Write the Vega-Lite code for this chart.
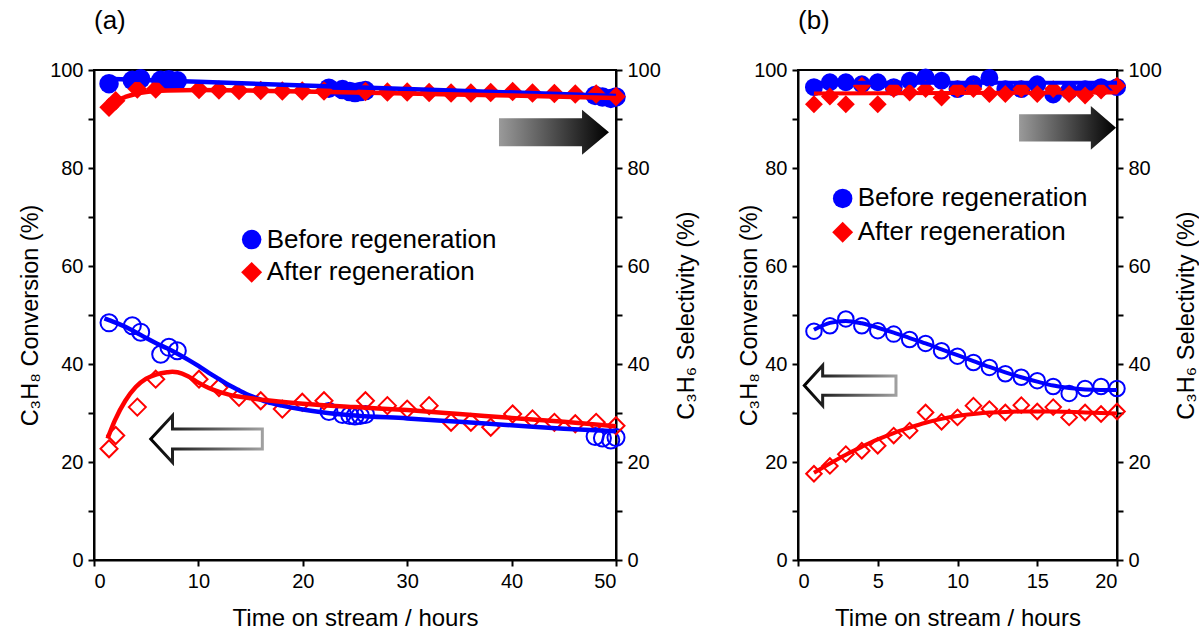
{
  "$schema": "https://vega.github.io/schema/vega-lite/v6.json",
  "background": "white",
  "padding": {"left": 17, "top": 7, "right": 0, "bottom": 0},
  "spacing": 37,
  "config": {
    "font": "Liberation Sans",
    "view": {"stroke": "black", "strokeWidth": 2},
    "axis": {"domainColor": "black", "domainWidth": 2, "tickColor": "black", "tickWidth": 2, "tickSize": 6, "labelFontSize": 20, "labelColor": "black", "labelFont": "Liberation Sans", "titleFont": "Liberation Sans", "titleFontSize": 23.5, "titleFontWeight": "normal", "titleColor": "black", "grid": false, "labelPadding": 5, "labelOverlap": false},
    "axisX": {"titlePadding": 15, "titleFontSize": 24},
    "point": {"opacity": 1},
    "title": {"font": "Liberation Sans", "fontSize": 26, "fontWeight": "normal", "color": "black", "anchor": "start", "frame": "group", "baseline": "alphabetic", "offset": 26}
  },
  "datasets": {
    "pts": [
      {"panel": "a", "series": "Before regeneration", "kind": "conv", "t": 1.44, "v": 48.4},
      {"panel": "a", "series": "Before regeneration", "kind": "conv", "t": 3.67, "v": 47.8},
      {"panel": "a", "series": "Before regeneration", "kind": "conv", "t": 4.47, "v": 46.5},
      {"panel": "a", "series": "Before regeneration", "kind": "conv", "t": 6.39, "v": 42.0},
      {"panel": "a", "series": "Before regeneration", "kind": "conv", "t": 7.18, "v": 43.4},
      {"panel": "a", "series": "Before regeneration", "kind": "conv", "t": 7.98, "v": 42.7},
      {"panel": "a", "series": "Before regeneration", "kind": "conv", "t": 22.5, "v": 30.3},
      {"panel": "a", "series": "Before regeneration", "kind": "conv", "t": 23.8, "v": 29.7},
      {"panel": "a", "series": "Before regeneration", "kind": "conv", "t": 24.5, "v": 29.5},
      {"panel": "a", "series": "Before regeneration", "kind": "conv", "t": 25.0, "v": 29.4},
      {"panel": "a", "series": "Before regeneration", "kind": "conv", "t": 25.5, "v": 29.5},
      {"panel": "a", "series": "Before regeneration", "kind": "conv", "t": 26.0, "v": 29.7},
      {"panel": "a", "series": "Before regeneration", "kind": "conv", "t": 48.0, "v": 25.2},
      {"panel": "a", "series": "Before regeneration", "kind": "conv", "t": 48.7, "v": 24.9},
      {"panel": "a", "series": "Before regeneration", "kind": "conv", "t": 49.5, "v": 24.5},
      {"panel": "a", "series": "Before regeneration", "kind": "conv", "t": 50.0, "v": 25.0},
      {"panel": "a", "series": "After regeneration", "kind": "conv", "t": 1.44, "v": 22.7},
      {"panel": "a", "series": "After regeneration", "kind": "conv", "t": 2.08, "v": 25.4},
      {"panel": "a", "series": "After regeneration", "kind": "conv", "t": 4.15, "v": 31.2},
      {"panel": "a", "series": "After regeneration", "kind": "conv", "t": 5.91, "v": 36.9},
      {"panel": "a", "series": "After regeneration", "kind": "conv", "t": 10.06, "v": 36.9},
      {"panel": "a", "series": "After regeneration", "kind": "conv", "t": 11.97, "v": 35.2},
      {"panel": "a", "series": "After regeneration", "kind": "conv", "t": 13.89, "v": 33.2},
      {"panel": "a", "series": "After regeneration", "kind": "conv", "t": 15.97, "v": 32.5},
      {"panel": "a", "series": "After regeneration", "kind": "conv", "t": 18.04, "v": 30.8},
      {"panel": "a", "series": "After regeneration", "kind": "conv", "t": 19.95, "v": 32.2},
      {"panel": "a", "series": "After regeneration", "kind": "conv", "t": 22.03, "v": 32.5},
      {"panel": "a", "series": "After regeneration", "kind": "conv", "t": 26.0, "v": 32.5},
      {"panel": "a", "series": "After regeneration", "kind": "conv", "t": 28.1, "v": 31.5},
      {"panel": "a", "series": "After regeneration", "kind": "conv", "t": 30.0, "v": 30.8},
      {"panel": "a", "series": "After regeneration", "kind": "conv", "t": 32.1, "v": 31.5},
      {"panel": "a", "series": "After regeneration", "kind": "conv", "t": 34.2, "v": 28.1},
      {"panel": "a", "series": "After regeneration", "kind": "conv", "t": 36.1, "v": 28.1},
      {"panel": "a", "series": "After regeneration", "kind": "conv", "t": 38.0, "v": 27.1},
      {"panel": "a", "series": "After regeneration", "kind": "conv", "t": 40.1, "v": 29.8},
      {"panel": "a", "series": "After regeneration", "kind": "conv", "t": 42.0, "v": 28.8},
      {"panel": "a", "series": "After regeneration", "kind": "conv", "t": 44.1, "v": 28.1},
      {"panel": "a", "series": "After regeneration", "kind": "conv", "t": 46.1, "v": 27.8},
      {"panel": "a", "series": "After regeneration", "kind": "conv", "t": 48.1, "v": 28.1},
      {"panel": "a", "series": "After regeneration", "kind": "conv", "t": 50.0, "v": 27.4},
      {"panel": "a", "series": "Before regeneration", "kind": "sel", "t": 1.44, "v": 97.2},
      {"panel": "a", "series": "Before regeneration", "kind": "sel", "t": 3.67, "v": 97.9},
      {"panel": "a", "series": "Before regeneration", "kind": "sel", "t": 4.47, "v": 98.2},
      {"panel": "a", "series": "Before regeneration", "kind": "sel", "t": 6.39, "v": 97.9},
      {"panel": "a", "series": "Before regeneration", "kind": "sel", "t": 7.18, "v": 98.0},
      {"panel": "a", "series": "Before regeneration", "kind": "sel", "t": 7.98, "v": 97.8},
      {"panel": "a", "series": "Before regeneration", "kind": "sel", "t": 22.5, "v": 96.3},
      {"panel": "a", "series": "Before regeneration", "kind": "sel", "t": 23.8, "v": 96.0},
      {"panel": "a", "series": "Before regeneration", "kind": "sel", "t": 24.5, "v": 95.6},
      {"panel": "a", "series": "Before regeneration", "kind": "sel", "t": 25.0, "v": 95.4},
      {"panel": "a", "series": "Before regeneration", "kind": "sel", "t": 25.5, "v": 95.6},
      {"panel": "a", "series": "Before regeneration", "kind": "sel", "t": 26.0, "v": 95.8},
      {"panel": "a", "series": "Before regeneration", "kind": "sel", "t": 48.0, "v": 94.8},
      {"panel": "a", "series": "Before regeneration", "kind": "sel", "t": 48.7, "v": 94.5},
      {"panel": "a", "series": "Before regeneration", "kind": "sel", "t": 49.5, "v": 94.2},
      {"panel": "a", "series": "Before regeneration", "kind": "sel", "t": 50.0, "v": 94.5},
      {"panel": "a", "series": "After regeneration", "kind": "sel", "t": 1.44, "v": 92.4},
      {"panel": "a", "series": "After regeneration", "kind": "sel", "t": 2.08, "v": 93.7},
      {"panel": "a", "series": "After regeneration", "kind": "sel", "t": 4.15, "v": 96.1},
      {"panel": "a", "series": "After regeneration", "kind": "sel", "t": 5.91, "v": 96.1},
      {"panel": "a", "series": "After regeneration", "kind": "sel", "t": 10.06, "v": 96.0},
      {"panel": "a", "series": "After regeneration", "kind": "sel", "t": 11.97, "v": 95.9},
      {"panel": "a", "series": "After regeneration", "kind": "sel", "t": 13.89, "v": 95.8},
      {"panel": "a", "series": "After regeneration", "kind": "sel", "t": 15.97, "v": 95.8},
      {"panel": "a", "series": "After regeneration", "kind": "sel", "t": 18.04, "v": 95.7},
      {"panel": "a", "series": "After regeneration", "kind": "sel", "t": 19.95, "v": 95.7},
      {"panel": "a", "series": "After regeneration", "kind": "sel", "t": 22.03, "v": 95.7},
      {"panel": "a", "series": "After regeneration", "kind": "sel", "t": 26.0, "v": 95.6},
      {"panel": "a", "series": "After regeneration", "kind": "sel", "t": 28.1, "v": 95.5},
      {"panel": "a", "series": "After regeneration", "kind": "sel", "t": 30.0, "v": 95.5},
      {"panel": "a", "series": "After regeneration", "kind": "sel", "t": 32.1, "v": 95.4},
      {"panel": "a", "series": "After regeneration", "kind": "sel", "t": 34.2, "v": 95.3},
      {"panel": "a", "series": "After regeneration", "kind": "sel", "t": 36.1, "v": 95.3},
      {"panel": "a", "series": "After regeneration", "kind": "sel", "t": 38.0, "v": 95.4},
      {"panel": "a", "series": "After regeneration", "kind": "sel", "t": 40.1, "v": 95.6},
      {"panel": "a", "series": "After regeneration", "kind": "sel", "t": 42.0, "v": 95.3},
      {"panel": "a", "series": "After regeneration", "kind": "sel", "t": 44.1, "v": 95.2},
      {"panel": "a", "series": "After regeneration", "kind": "sel", "t": 46.1, "v": 95.1},
      {"panel": "a", "series": "After regeneration", "kind": "sel", "t": 48.1, "v": 95.1},
      {"panel": "a", "series": "After regeneration", "kind": "sel", "t": 50.0, "v": 94.6},
      {"panel": "b", "series": "Before regeneration", "kind": "conv", "t": 1, "v": 46.7},
      {"panel": "b", "series": "Before regeneration", "kind": "conv", "t": 2, "v": 47.8},
      {"panel": "b", "series": "Before regeneration", "kind": "conv", "t": 3, "v": 49.2},
      {"panel": "b", "series": "Before regeneration", "kind": "conv", "t": 4, "v": 47.8},
      {"panel": "b", "series": "Before regeneration", "kind": "conv", "t": 5, "v": 46.8},
      {"panel": "b", "series": "Before regeneration", "kind": "conv", "t": 6, "v": 46.1},
      {"panel": "b", "series": "Before regeneration", "kind": "conv", "t": 7, "v": 45.0},
      {"panel": "b", "series": "Before regeneration", "kind": "conv", "t": 8, "v": 44.2},
      {"panel": "b", "series": "Before regeneration", "kind": "conv", "t": 9, "v": 42.7},
      {"panel": "b", "series": "Before regeneration", "kind": "conv", "t": 10, "v": 41.6},
      {"panel": "b", "series": "Before regeneration", "kind": "conv", "t": 11, "v": 40.3},
      {"panel": "b", "series": "Before regeneration", "kind": "conv", "t": 12, "v": 39.3},
      {"panel": "b", "series": "Before regeneration", "kind": "conv", "t": 13, "v": 38.0},
      {"panel": "b", "series": "Before regeneration", "kind": "conv", "t": 14, "v": 37.3},
      {"panel": "b", "series": "Before regeneration", "kind": "conv", "t": 15, "v": 36.6},
      {"panel": "b", "series": "Before regeneration", "kind": "conv", "t": 16, "v": 35.4},
      {"panel": "b", "series": "Before regeneration", "kind": "conv", "t": 17, "v": 34.0},
      {"panel": "b", "series": "Before regeneration", "kind": "conv", "t": 18, "v": 35.0},
      {"panel": "b", "series": "Before regeneration", "kind": "conv", "t": 19, "v": 35.4},
      {"panel": "b", "series": "Before regeneration", "kind": "conv", "t": 20, "v": 35.0},
      {"panel": "b", "series": "After regeneration", "kind": "conv", "t": 1, "v": 17.6},
      {"panel": "b", "series": "After regeneration", "kind": "conv", "t": 2, "v": 19.2},
      {"panel": "b", "series": "After regeneration", "kind": "conv", "t": 3, "v": 21.6},
      {"panel": "b", "series": "After regeneration", "kind": "conv", "t": 4, "v": 22.3},
      {"panel": "b", "series": "After regeneration", "kind": "conv", "t": 5, "v": 23.3},
      {"panel": "b", "series": "After regeneration", "kind": "conv", "t": 6, "v": 25.4},
      {"panel": "b", "series": "After regeneration", "kind": "conv", "t": 7, "v": 26.4},
      {"panel": "b", "series": "After regeneration", "kind": "conv", "t": 8, "v": 30.1},
      {"panel": "b", "series": "After regeneration", "kind": "conv", "t": 9, "v": 28.2},
      {"panel": "b", "series": "After regeneration", "kind": "conv", "t": 10, "v": 29.1},
      {"panel": "b", "series": "After regeneration", "kind": "conv", "t": 11, "v": 31.5},
      {"panel": "b", "series": "After regeneration", "kind": "conv", "t": 12, "v": 30.8},
      {"panel": "b", "series": "After regeneration", "kind": "conv", "t": 13, "v": 30.1},
      {"panel": "b", "series": "After regeneration", "kind": "conv", "t": 14, "v": 31.6},
      {"panel": "b", "series": "After regeneration", "kind": "conv", "t": 15, "v": 30.3},
      {"panel": "b", "series": "After regeneration", "kind": "conv", "t": 16, "v": 31.2},
      {"panel": "b", "series": "After regeneration", "kind": "conv", "t": 17, "v": 29.1},
      {"panel": "b", "series": "After regeneration", "kind": "conv", "t": 18, "v": 30.1},
      {"panel": "b", "series": "After regeneration", "kind": "conv", "t": 19, "v": 29.8},
      {"panel": "b", "series": "After regeneration", "kind": "conv", "t": 20, "v": 30.3},
      {"panel": "b", "series": "Before regeneration", "kind": "sel", "t": 1, "v": 96.5},
      {"panel": "b", "series": "Before regeneration", "kind": "sel", "t": 2, "v": 97.5},
      {"panel": "b", "series": "Before regeneration", "kind": "sel", "t": 3, "v": 97.5},
      {"panel": "b", "series": "Before regeneration", "kind": "sel", "t": 4, "v": 97.1},
      {"panel": "b", "series": "Before regeneration", "kind": "sel", "t": 5, "v": 97.5},
      {"panel": "b", "series": "Before regeneration", "kind": "sel", "t": 6, "v": 96.5},
      {"panel": "b", "series": "Before regeneration", "kind": "sel", "t": 7, "v": 97.8},
      {"panel": "b", "series": "Before regeneration", "kind": "sel", "t": 8, "v": 98.5},
      {"panel": "b", "series": "Before regeneration", "kind": "sel", "t": 9, "v": 97.8},
      {"panel": "b", "series": "Before regeneration", "kind": "sel", "t": 10, "v": 96.1},
      {"panel": "b", "series": "Before regeneration", "kind": "sel", "t": 11, "v": 97.1},
      {"panel": "b", "series": "Before regeneration", "kind": "sel", "t": 12, "v": 98.4},
      {"panel": "b", "series": "Before regeneration", "kind": "sel", "t": 13, "v": 96.1},
      {"panel": "b", "series": "Before regeneration", "kind": "sel", "t": 14, "v": 96.1},
      {"panel": "b", "series": "Before regeneration", "kind": "sel", "t": 15, "v": 97.1},
      {"panel": "b", "series": "Before regeneration", "kind": "sel", "t": 16, "v": 95.0},
      {"panel": "b", "series": "Before regeneration", "kind": "sel", "t": 17, "v": 95.8},
      {"panel": "b", "series": "Before regeneration", "kind": "sel", "t": 18, "v": 96.1},
      {"panel": "b", "series": "Before regeneration", "kind": "sel", "t": 19, "v": 96.5},
      {"panel": "b", "series": "Before regeneration", "kind": "sel", "t": 20, "v": 96.5},
      {"panel": "b", "series": "After regeneration", "kind": "sel", "t": 1, "v": 93.0},
      {"panel": "b", "series": "After regeneration", "kind": "sel", "t": 2, "v": 94.6},
      {"panel": "b", "series": "After regeneration", "kind": "sel", "t": 3, "v": 93.0},
      {"panel": "b", "series": "After regeneration", "kind": "sel", "t": 4, "v": 96.8},
      {"panel": "b", "series": "After regeneration", "kind": "sel", "t": 5, "v": 93.0},
      {"panel": "b", "series": "After regeneration", "kind": "sel", "t": 6, "v": 96.1},
      {"panel": "b", "series": "After regeneration", "kind": "sel", "t": 7, "v": 95.4},
      {"panel": "b", "series": "After regeneration", "kind": "sel", "t": 8, "v": 96.1},
      {"panel": "b", "series": "After regeneration", "kind": "sel", "t": 9, "v": 94.4},
      {"panel": "b", "series": "After regeneration", "kind": "sel", "t": 10, "v": 96.1},
      {"panel": "b", "series": "After regeneration", "kind": "sel", "t": 11, "v": 96.1},
      {"panel": "b", "series": "After regeneration", "kind": "sel", "t": 12, "v": 95.1},
      {"panel": "b", "series": "After regeneration", "kind": "sel", "t": 13, "v": 95.1},
      {"panel": "b", "series": "After regeneration", "kind": "sel", "t": 14, "v": 96.1},
      {"panel": "b", "series": "After regeneration", "kind": "sel", "t": 15, "v": 95.1},
      {"panel": "b", "series": "After regeneration", "kind": "sel", "t": 16, "v": 96.1},
      {"panel": "b", "series": "After regeneration", "kind": "sel", "t": 17, "v": 95.1},
      {"panel": "b", "series": "After regeneration", "kind": "sel", "t": 18, "v": 94.8},
      {"panel": "b", "series": "After regeneration", "kind": "sel", "t": 19, "v": 95.8},
      {"panel": "b", "series": "After regeneration", "kind": "sel", "t": 20, "v": 96.8}
    ],
    "fit": [
      {"panel": "a", "series": "Before regeneration", "kind": "conv", "t": 1, "v": 49.3},
      {"panel": "a", "series": "Before regeneration", "kind": "conv", "t": 2, "v": 48.5},
      {"panel": "a", "series": "Before regeneration", "kind": "conv", "t": 3, "v": 47.6},
      {"panel": "a", "series": "Before regeneration", "kind": "conv", "t": 4, "v": 46.5},
      {"panel": "a", "series": "Before regeneration", "kind": "conv", "t": 5, "v": 45.3},
      {"panel": "a", "series": "Before regeneration", "kind": "conv", "t": 6, "v": 44.2},
      {"panel": "a", "series": "Before regeneration", "kind": "conv", "t": 7, "v": 43.2},
      {"panel": "a", "series": "Before regeneration", "kind": "conv", "t": 8, "v": 42.1},
      {"panel": "a", "series": "Before regeneration", "kind": "conv", "t": 9, "v": 40.9},
      {"panel": "a", "series": "Before regeneration", "kind": "conv", "t": 10, "v": 39.6},
      {"panel": "a", "series": "Before regeneration", "kind": "conv", "t": 11, "v": 38.2},
      {"panel": "a", "series": "Before regeneration", "kind": "conv", "t": 12, "v": 36.9},
      {"panel": "a", "series": "Before regeneration", "kind": "conv", "t": 13, "v": 35.6},
      {"panel": "a", "series": "Before regeneration", "kind": "conv", "t": 14, "v": 34.5},
      {"panel": "a", "series": "Before regeneration", "kind": "conv", "t": 15, "v": 33.5},
      {"panel": "a", "series": "Before regeneration", "kind": "conv", "t": 16, "v": 32.7},
      {"panel": "a", "series": "Before regeneration", "kind": "conv", "t": 17, "v": 32.0},
      {"panel": "a", "series": "Before regeneration", "kind": "conv", "t": 18, "v": 31.5},
      {"panel": "a", "series": "Before regeneration", "kind": "conv", "t": 20, "v": 30.7},
      {"panel": "a", "series": "Before regeneration", "kind": "conv", "t": 22, "v": 30.1},
      {"panel": "a", "series": "Before regeneration", "kind": "conv", "t": 25, "v": 29.5},
      {"panel": "a", "series": "Before regeneration", "kind": "conv", "t": 30, "v": 28.9},
      {"panel": "a", "series": "Before regeneration", "kind": "conv", "t": 35, "v": 28.2},
      {"panel": "a", "series": "Before regeneration", "kind": "conv", "t": 40, "v": 27.5},
      {"panel": "a", "series": "Before regeneration", "kind": "conv", "t": 45, "v": 26.8},
      {"panel": "a", "series": "Before regeneration", "kind": "conv", "t": 50, "v": 26.3},
      {"panel": "a", "series": "After regeneration", "kind": "conv", "t": 1.3, "v": 24.8},
      {"panel": "a", "series": "After regeneration", "kind": "conv", "t": 2, "v": 28.5},
      {"panel": "a", "series": "After regeneration", "kind": "conv", "t": 3, "v": 32.5},
      {"panel": "a", "series": "After regeneration", "kind": "conv", "t": 4, "v": 35.3},
      {"panel": "a", "series": "After regeneration", "kind": "conv", "t": 5, "v": 37.0},
      {"panel": "a", "series": "After regeneration", "kind": "conv", "t": 6, "v": 37.9},
      {"panel": "a", "series": "After regeneration", "kind": "conv", "t": 7, "v": 38.3},
      {"panel": "a", "series": "After regeneration", "kind": "conv", "t": 7.5, "v": 38.4},
      {"panel": "a", "series": "After regeneration", "kind": "conv", "t": 8, "v": 38.3},
      {"panel": "a", "series": "After regeneration", "kind": "conv", "t": 9, "v": 37.5},
      {"panel": "a", "series": "After regeneration", "kind": "conv", "t": 10, "v": 36.2},
      {"panel": "a", "series": "After regeneration", "kind": "conv", "t": 11, "v": 35.1},
      {"panel": "a", "series": "After regeneration", "kind": "conv", "t": 12, "v": 34.3},
      {"panel": "a", "series": "After regeneration", "kind": "conv", "t": 13, "v": 33.7},
      {"panel": "a", "series": "After regeneration", "kind": "conv", "t": 14, "v": 33.3},
      {"panel": "a", "series": "After regeneration", "kind": "conv", "t": 15, "v": 33.0},
      {"panel": "a", "series": "After regeneration", "kind": "conv", "t": 17, "v": 32.5},
      {"panel": "a", "series": "After regeneration", "kind": "conv", "t": 20, "v": 31.9},
      {"panel": "a", "series": "After regeneration", "kind": "conv", "t": 25, "v": 31.2},
      {"panel": "a", "series": "After regeneration", "kind": "conv", "t": 30, "v": 30.6},
      {"panel": "a", "series": "After regeneration", "kind": "conv", "t": 35, "v": 29.8},
      {"panel": "a", "series": "After regeneration", "kind": "conv", "t": 40, "v": 29.0},
      {"panel": "a", "series": "After regeneration", "kind": "conv", "t": 45, "v": 28.2},
      {"panel": "a", "series": "After regeneration", "kind": "conv", "t": 50, "v": 27.3},
      {"panel": "a", "series": "Before regeneration", "kind": "sel", "t": 1, "v": 98.2},
      {"panel": "a", "series": "Before regeneration", "kind": "sel", "t": 10, "v": 97.6},
      {"panel": "a", "series": "Before regeneration", "kind": "sel", "t": 25, "v": 96.5},
      {"panel": "a", "series": "Before regeneration", "kind": "sel", "t": 50, "v": 94.7},
      {"panel": "a", "series": "After regeneration", "kind": "sel", "t": 1.3, "v": 92.6},
      {"panel": "a", "series": "After regeneration", "kind": "sel", "t": 2, "v": 93.6},
      {"panel": "a", "series": "After regeneration", "kind": "sel", "t": 3, "v": 94.5},
      {"panel": "a", "series": "After regeneration", "kind": "sel", "t": 4, "v": 95.1},
      {"panel": "a", "series": "After regeneration", "kind": "sel", "t": 5, "v": 95.5},
      {"panel": "a", "series": "After regeneration", "kind": "sel", "t": 7, "v": 95.8},
      {"panel": "a", "series": "After regeneration", "kind": "sel", "t": 10, "v": 95.9},
      {"panel": "a", "series": "After regeneration", "kind": "sel", "t": 15, "v": 95.8},
      {"panel": "a", "series": "After regeneration", "kind": "sel", "t": 20, "v": 95.6},
      {"panel": "a", "series": "After regeneration", "kind": "sel", "t": 25, "v": 95.4},
      {"panel": "a", "series": "After regeneration", "kind": "sel", "t": 30, "v": 95.2},
      {"panel": "a", "series": "After regeneration", "kind": "sel", "t": 40, "v": 94.8},
      {"panel": "a", "series": "After regeneration", "kind": "sel", "t": 50, "v": 94.3},
      {"panel": "b", "series": "Before regeneration", "kind": "conv", "t": 1, "v": 47.0},
      {"panel": "b", "series": "Before regeneration", "kind": "conv", "t": 2, "v": 48.4},
      {"panel": "b", "series": "Before regeneration", "kind": "conv", "t": 3, "v": 48.8},
      {"panel": "b", "series": "Before regeneration", "kind": "conv", "t": 4, "v": 48.3},
      {"panel": "b", "series": "Before regeneration", "kind": "conv", "t": 5, "v": 47.4},
      {"panel": "b", "series": "Before regeneration", "kind": "conv", "t": 6, "v": 46.4},
      {"panel": "b", "series": "Before regeneration", "kind": "conv", "t": 7, "v": 45.3},
      {"panel": "b", "series": "Before regeneration", "kind": "conv", "t": 8, "v": 44.2},
      {"panel": "b", "series": "Before regeneration", "kind": "conv", "t": 9, "v": 43.0},
      {"panel": "b", "series": "Before regeneration", "kind": "conv", "t": 10, "v": 41.8},
      {"panel": "b", "series": "Before regeneration", "kind": "conv", "t": 11, "v": 40.6},
      {"panel": "b", "series": "Before regeneration", "kind": "conv", "t": 12, "v": 39.4},
      {"panel": "b", "series": "Before regeneration", "kind": "conv", "t": 13, "v": 38.3},
      {"panel": "b", "series": "Before regeneration", "kind": "conv", "t": 14, "v": 37.3},
      {"panel": "b", "series": "Before regeneration", "kind": "conv", "t": 15, "v": 36.4},
      {"panel": "b", "series": "Before regeneration", "kind": "conv", "t": 16, "v": 35.6},
      {"panel": "b", "series": "Before regeneration", "kind": "conv", "t": 17, "v": 35.1},
      {"panel": "b", "series": "Before regeneration", "kind": "conv", "t": 18, "v": 34.8},
      {"panel": "b", "series": "Before regeneration", "kind": "conv", "t": 19, "v": 34.7},
      {"panel": "b", "series": "Before regeneration", "kind": "conv", "t": 20, "v": 34.7},
      {"panel": "b", "series": "After regeneration", "kind": "conv", "t": 1, "v": 17.8},
      {"panel": "b", "series": "After regeneration", "kind": "conv", "t": 2, "v": 19.7},
      {"panel": "b", "series": "After regeneration", "kind": "conv", "t": 3, "v": 21.5},
      {"panel": "b", "series": "After regeneration", "kind": "conv", "t": 4, "v": 23.1},
      {"panel": "b", "series": "After regeneration", "kind": "conv", "t": 5, "v": 24.6},
      {"panel": "b", "series": "After regeneration", "kind": "conv", "t": 6, "v": 25.9},
      {"panel": "b", "series": "After regeneration", "kind": "conv", "t": 7, "v": 27.0},
      {"panel": "b", "series": "After regeneration", "kind": "conv", "t": 8, "v": 28.0},
      {"panel": "b", "series": "After regeneration", "kind": "conv", "t": 9, "v": 28.8},
      {"panel": "b", "series": "After regeneration", "kind": "conv", "t": 10, "v": 29.4},
      {"panel": "b", "series": "After regeneration", "kind": "conv", "t": 11, "v": 29.8},
      {"panel": "b", "series": "After regeneration", "kind": "conv", "t": 12, "v": 30.1},
      {"panel": "b", "series": "After regeneration", "kind": "conv", "t": 13, "v": 30.2},
      {"panel": "b", "series": "After regeneration", "kind": "conv", "t": 14, "v": 30.3},
      {"panel": "b", "series": "After regeneration", "kind": "conv", "t": 16, "v": 30.3},
      {"panel": "b", "series": "After regeneration", "kind": "conv", "t": 18, "v": 30.1},
      {"panel": "b", "series": "After regeneration", "kind": "conv", "t": 20, "v": 29.9},
      {"panel": "b", "series": "Before regeneration", "kind": "sel", "t": 1, "v": 97.4},
      {"panel": "b", "series": "Before regeneration", "kind": "sel", "t": 20, "v": 97.4},
      {"panel": "b", "series": "After regeneration", "kind": "sel", "t": 1, "v": 95.2},
      {"panel": "b", "series": "After regeneration", "kind": "sel", "t": 20, "v": 95.4}
    ],
    "legend": [
      {"panel": "a", "series": "Before regeneration", "t": 15.1, "v": 65.4},
      {"panel": "a", "series": "After regeneration", "t": 15.1, "v": 58.7},
      {"panel": "b", "series": "Before regeneration", "t": 2.8, "v": 73.8},
      {"panel": "b", "series": "After regeneration", "t": 2.8, "v": 66.9}
    ],
    "arrows": [
      {"panel": "a", "dir": "right", "t": 44.06, "v": 87.3},
      {"panel": "a", "dir": "left", "t": 10.78, "v": 24.7},
      {"panel": "b", "dir": "right", "t": 16.9, "v": 88.2},
      {"panel": "b", "dir": "left", "t": 3.27, "v": 35.6}
    ]
  },
  "hconcat": [
    {
      "width": 522,
      "height": 490,
      "title": {"text": "(a)"},
      "layer": [
        {
          "encoding": {
            "x": {"field": "t", "type": "quantitative", "scale": {"domain": [0, 50], "nice": false}, "axis": {"values": [0, 10, 20, 30, 40, 50], "title": "Time on stream / hours"}},
            "y": {"field": "v", "type": "quantitative", "scale": {"domain": [0, 100], "nice": false}, "axis": {"orient": "left", "values": [0, 10, 20, 30, 40, 50, 60, 70, 80, 90, 100], "labelExpr": "datum.value % 20 === 0 ? datum.label : ''", "title": "C₃H₈ Conversion (%)", "titlePadding": 7}}
          },
          "layer": [
            {
              "data": {"name": "pts"},
              "transform": [{"filter": "datum.panel === 'a' && datum.kind === 'conv'"}],
              "mark": {"type": "point", "filled": false, "strokeWidth": 2, "size": 290, "opacity": 1},
              "encoding": {
                "color": {"field": "series", "type": "nominal", "scale": {"domain": ["Before regeneration", "After regeneration"], "range": ["#0000FF", "#FF0000"]}, "legend": null},
                "shape": {"field": "series", "type": "nominal", "scale": {"domain": ["Before regeneration", "After regeneration"], "range": ["circle", "diamond"]}, "legend": null}
              }
            },
            {
              "data": {"name": "fit"},
              "transform": [{"filter": "datum.panel === 'a' && datum.kind === 'conv'"}],
              "mark": {"type": "line", "strokeWidth": 4.5, "interpolate": "monotone"},
              "encoding": {
                "color": {"field": "series", "type": "nominal", "legend": null}
              }
            },
            {
              "data": {"name": "arrows"},
              "transform": [{"filter": "datum.panel === 'a' && datum.dir === 'right'"}],
              "mark": {"type": "point", "filled": true, "opacity": 1, "size": 12100, "shape": "M-1,-0.255 L0.51,-0.255 L0.51,-0.41 L1,0 L0.51,0.41 L0.51,0.255 L-1,0.255 Z", "strokeWidth": 0, "fill": {"gradient": "linear", "x1": 0, "y1": 0, "x2": 1, "y2": 0, "stops": [{"offset": 0, "color": "#9a9a9a"}, {"offset": 1, "color": "#000000"}]}},
              "encoding": {}
            },
            {
              "data": {"name": "arrows"},
              "transform": [{"filter": "datum.panel === 'a' && datum.dir === 'left'"}],
              "mark": {"type": "point", "filled": true, "opacity": 1, "size": 12450, "shape": "M1,-0.18 L-0.61,-0.18 L-0.61,-0.42 L-1,0 L-0.61,0.42 L-0.61,0.18 L1,0.18 Z", "fill": "white", "strokeWidth": 3, "stroke": {"gradient": "linear", "x1": 0, "y1": 0, "x2": 1, "y2": 0, "stops": [{"offset": 0, "color": "#000000"}, {"offset": 1, "color": "#a0a0a0"}]}},
              "encoding": {}
            },
            {
              "data": {"name": "legend"},
              "transform": [{"filter": "datum.panel === 'a' && datum.series === 'Before regeneration'"}],
              "mark": {"type": "point", "filled": true, "opacity": 1, "shape": "circle", "size": 380, "strokeWidth": 0},
              "encoding": {"color": {"field": "series", "type": "nominal", "legend": null}}
            },
            {
              "data": {"name": "legend"},
              "transform": [{"filter": "datum.panel === 'a' && datum.series === 'After regeneration'"}],
              "mark": {"type": "point", "filled": true, "opacity": 1, "shape": "diamond", "size": 440, "strokeWidth": 0},
              "encoding": {"color": {"field": "series", "type": "nominal", "legend": null}}
            },
            {
              "data": {"name": "legend"},
              "transform": [{"filter": "datum.panel === 'a'"}],
              "mark": {"type": "text", "align": "left", "baseline": "middle", "dx": 15, "fontSize": 26, "color": "black", "font": "Liberation Sans"},
              "encoding": {"text": {"field": "series"}}
            }
          ]
        },
        {
          "encoding": {
            "x": {"field": "t", "type": "quantitative", "scale": {"domain": [0, 50], "nice": false}, "axis": {"values": [0, 10, 20, 30, 40, 50], "title": "Time on stream / hours"}},
            "y": {"field": "v", "type": "quantitative", "scale": {"domain": [0, 100], "nice": false}, "axis": {"orient": "right", "values": [0, 10, 20, 30, 40, 50, 60, 70, 80, 90, 100], "labelExpr": "datum.value % 20 === 0 ? datum.label : ''", "title": "C₃H₆ Selectivity (%)", "titleAngle": 270, "titlePadding": 38}}
          },
          "layer": [
            {
              "data": {"name": "pts"},
              "transform": [{"filter": "datum.panel === 'a' && datum.kind === 'sel'"}],
              "mark": {"type": "point", "filled": true, "strokeWidth": 0, "size": 380, "opacity": 1},
              "encoding": {
                "color": {"field": "series", "type": "nominal", "legend": null},
                "shape": {"field": "series", "type": "nominal", "legend": null}
              }
            },
            {
              "data": {"name": "fit"},
              "transform": [{"filter": "datum.panel === 'a' && datum.kind === 'sel'"}],
              "mark": {"type": "line", "strokeWidth": 4.5, "interpolate": "monotone"},
              "encoding": {"color": {"field": "series", "type": "nominal", "legend": null}}
            }
          ]
        }
      ],
      "resolve": {"scale": {"y": "independent"}}
    },
    {
      "width": 319,
      "height": 490,
      "title": {"text": "(b)"},
      "layer": [
        {
          "encoding": {
            "x": {"field": "t", "type": "quantitative", "scale": {"domain": [0, 20], "nice": false}, "axis": {"values": [0, 5, 10, 15, 20], "title": "Time on stream / hours"}},
            "y": {"field": "v", "type": "quantitative", "scale": {"domain": [0, 100], "nice": false}, "axis": {"orient": "left", "values": [0, 10, 20, 30, 40, 50, 60, 70, 80, 90, 100], "labelExpr": "datum.value % 20 === 0 ? datum.label : ''", "title": "C₃H₈ Conversion (%)", "titlePadding": -8}}
          },
          "layer": [
            {
              "data": {"name": "pts"},
              "transform": [{"filter": "datum.panel === 'b' && datum.kind === 'conv'"}],
              "mark": {"type": "point", "filled": false, "strokeWidth": 2, "size": 240, "opacity": 1},
              "encoding": {
                "color": {"field": "series", "type": "nominal", "scale": {"domain": ["Before regeneration", "After regeneration"], "range": ["#0000FF", "#FF0000"]}, "legend": null},
                "shape": {"field": "series", "type": "nominal", "scale": {"domain": ["Before regeneration", "After regeneration"], "range": ["circle", "triangle-up"]}, "legend": null}
              }
            },
            {
              "data": {"name": "fit"},
              "transform": [{"filter": "datum.panel === 'b' && datum.kind === 'conv'"}],
              "mark": {"type": "line", "strokeWidth": 4, "interpolate": "monotone"},
              "encoding": {"color": {"field": "series", "type": "nominal", "legend": null}}
            },
            {
              "data": {"name": "arrows"},
              "transform": [{"filter": "datum.panel === 'b' && datum.dir === 'right'"}],
              "mark": {"type": "point", "filled": true, "opacity": 1, "size": 9409, "shape": "M-1,-0.28 L0.48,-0.28 L0.48,-0.45 L1,0 L0.48,0.45 L0.48,0.28 L-1,0.28 Z", "strokeWidth": 0, "fill": {"gradient": "linear", "x1": 0, "y1": 0, "x2": 1, "y2": 0, "stops": [{"offset": 0, "color": "#9a9a9a"}, {"offset": 1, "color": "#000000"}]}},
              "encoding": {}
            },
            {
              "data": {"name": "arrows"},
              "transform": [{"filter": "datum.panel === 'b' && datum.dir === 'left'"}],
              "mark": {"type": "point", "filled": true, "opacity": 1, "size": 8400, "shape": "M1,-0.21 L-0.6,-0.21 L-0.6,-0.44 L-1,0 L-0.6,0.44 L-0.6,0.21 L1,0.21 Z", "fill": "white", "strokeWidth": 3, "stroke": {"gradient": "linear", "x1": 0, "y1": 0, "x2": 1, "y2": 0, "stops": [{"offset": 0, "color": "#000000"}, {"offset": 1, "color": "#a0a0a0"}]}},
              "encoding": {}
            },
            {
              "data": {"name": "legend"},
              "transform": [{"filter": "datum.panel === 'b' && datum.series === 'Before regeneration'"}],
              "mark": {"type": "point", "filled": true, "opacity": 1, "shape": "circle", "size": 380, "strokeWidth": 0},
              "encoding": {"color": {"field": "series", "type": "nominal", "legend": null}}
            },
            {
              "data": {"name": "legend"},
              "transform": [{"filter": "datum.panel === 'b' && datum.series === 'After regeneration'"}],
              "mark": {"type": "point", "filled": true, "opacity": 1, "shape": "diamond", "size": 440, "strokeWidth": 0},
              "encoding": {"color": {"field": "series", "type": "nominal", "legend": null}}
            },
            {
              "data": {"name": "legend"},
              "transform": [{"filter": "datum.panel === 'b'"}],
              "mark": {"type": "text", "align": "left", "baseline": "middle", "dx": 15, "fontSize": 26, "color": "black", "font": "Liberation Sans"},
              "encoding": {"text": {"field": "series"}}
            }
          ]
        },
        {
          "encoding": {
            "x": {"field": "t", "type": "quantitative", "scale": {"domain": [0, 20], "nice": false}, "axis": {"values": [0, 5, 10, 15, 20], "title": "Time on stream / hours"}},
            "y": {"field": "v", "type": "quantitative", "scale": {"domain": [0, 100], "nice": false}, "axis": {"orient": "right", "values": [0, 10, 20, 30, 40, 50, 60, 70, 80, 90, 100], "labelExpr": "datum.value % 20 === 0 ? datum.label : ''", "title": "C₃H₆ Selectivity (%)", "titleAngle": 270, "titlePadding": 37}}
          },
          "layer": [
            {
              "data": {"name": "pts"},
              "transform": [{"filter": "datum.panel === 'b' && datum.kind === 'sel'"}],
              "mark": {"type": "point", "filled": true, "strokeWidth": 0, "size": 320, "opacity": 1},
              "encoding": {
                "color": {"field": "series", "type": "nominal", "legend": null},
                "shape": {"field": "series", "type": "nominal", "legend": null}
              }
            },
            {
              "data": {"name": "fit"},
              "transform": [{"filter": "datum.panel === 'b' && datum.kind === 'sel'"}],
              "mark": {"type": "line", "strokeWidth": 4, "interpolate": "monotone"},
              "encoding": {"color": {"field": "series", "type": "nominal", "legend": null}}
            }
          ]
        }
      ],
      "resolve": {"scale": {"y": "independent"}}
    }
  ]
}
